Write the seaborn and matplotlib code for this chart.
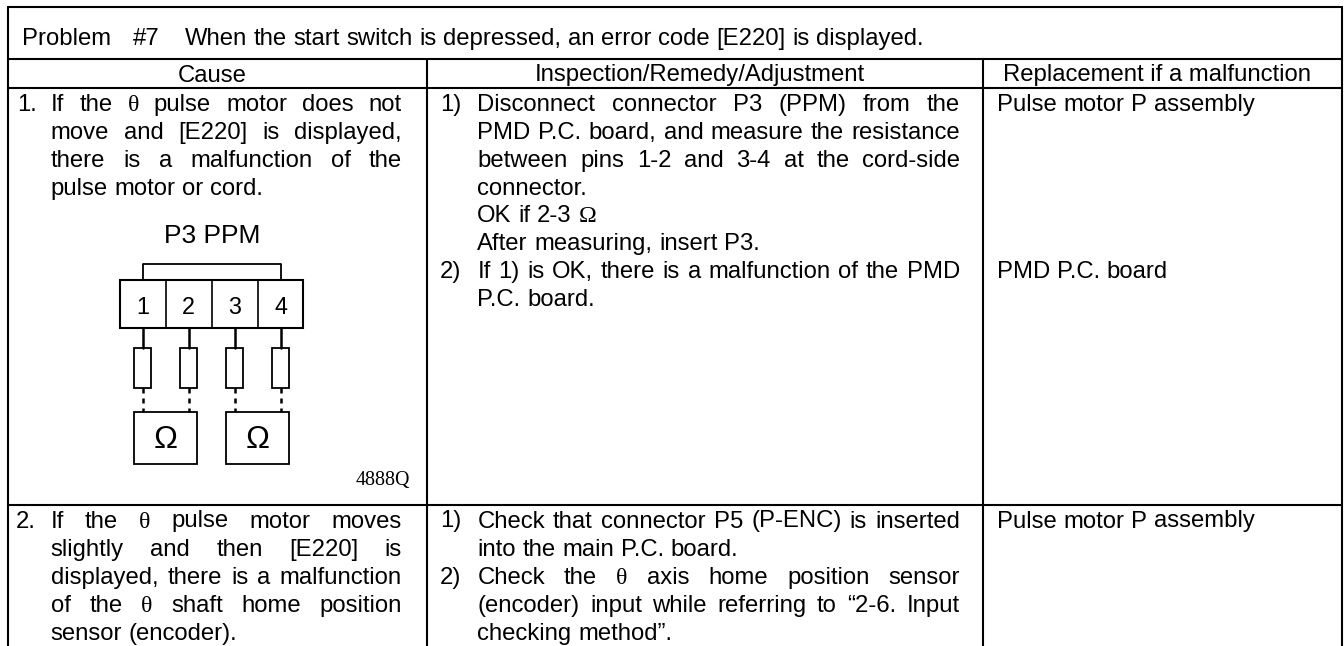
import matplotlib
matplotlib.use("Agg")
import matplotlib.pyplot as plt
import pandas as pd
import seaborn as sns
from matplotlib.patches import Rectangle

# table text
title_parts = ["Problem", "#7", "When the start switch is depressed, an error code [E220] is displayed."]
headers = ["Cause", "Inspection/Remedy/Adjustment", "Replacement if a malfunction"]

cause_1 = ["If the θ pulse motor does not", "move and [E220] is displayed,",
           "there is a malfunction of the", "pulse motor or cord."]
cause_2 = ["If the θ pulse motor moves", "slightly and then [E220] is",
           "displayed, there is a malfunction", "of the θ shaft home position", "sensor (encoder)."]
insp_1 = ["Disconnect connector P3 (PPM) from the", "PMD P.C. board, and measure the resistance",
          "between pins 1-2 and 3-4 at the cord-side", "connector.", "OK if 2-3 Ω", "After measuring, insert P3."]
insp_2 = ["If 1) is OK, there is a malfunction of the PMD", "P.C. board."]
insp_3 = ["Check that connector P5 (P-ENC) is inserted", "into the main P.C. board."]
insp_4 = ["Check the θ axis home position sensor", "(encoder) input while referring to “2-6. Input",
          "checking method”."]
replace_1 = ["Pulse motor P assembly", "PMD P.C. board", "Pulse motor P assembly"]

pins = ["1", "2", "3", "4"]
pin_x = [142.7, 188.7, 234.7, 280.7]
divider_x = [165.7, 211.7, 257.7]

# page layout in pixels
col_x = [7.5, 427, 983, 1341.5]
row_y = [7, 59, 88, 505, 646]
FS = 17.2
LH1 = 27.86
LH2 = 28.2
Y1 = 111
Y2 = 527.5

sns.set_theme(style="white")
plt.rcParams["font.family"] = ["Liberation Sans", "DejaVu Sans"]

fig = plt.figure(figsize=(13.44, 6.46), dpi=100)
ax = fig.add_axes([0, 0, 1, 1])

# table rules
rules = [
    (col_x[0], row_y[0], col_x[3], row_y[0]),
    (col_x[0], row_y[1], col_x[3], row_y[1]),
    (col_x[0], row_y[2], col_x[3], row_y[2]),
    (col_x[0], row_y[3], col_x[3], row_y[3]),
    (col_x[0], row_y[0], col_x[0], row_y[4]),
    (col_x[3], row_y[0], col_x[3], row_y[4]),
    (col_x[1], row_y[1], col_x[1], row_y[4]),
    (col_x[2], row_y[1], col_x[2], row_y[4]),
]
recs = []
for i, (x0, y0, x1, y1) in enumerate(rules):
    recs.append({"rule": i, "x": x0, "y": y0})
    recs.append({"rule": i, "x": x1, "y": y1})
rules_df = pd.DataFrame(recs)
sns.lineplot(data=rules_df, x="x", y="y", units="rule", estimator=None, sort=False,
             color="black", linewidth=1.5, ax=ax, legend=False)
ax.set_xlim(0, 1344)
ax.set_ylim(646, 0)
ax.axis("off")

renderer = fig.canvas.get_renderer()


def font_for(word):
    return "Liberation Serif" if word in ("θ", "Ω") else "Liberation Sans"


def word_width(word):
    t = ax.text(0, 0, word, fontsize=FS, family=font_for(word))
    w = t.get_window_extent(renderer).width
    t.remove()
    return w


def put_line(x, y, line, right=None):
    # right given means stretch the gaps so the line is justified
    words = line.split(" ")
    widths = [word_width(w) for w in words]
    gap = word_width("a a") - 2 * word_width("a")
    if right is not None and len(words) > 1:
        gap = (right - x - sum(widths)) / (len(words) - 1)
    for w, ww in zip(words, widths):
        ax.text(x, y, w, fontsize=FS, family=font_for(w), color="black", va="baseline", ha="left")
        x += ww + gap


# title row, header row
put_line(21.7, 45, title_parts[0])
put_line(133.3, 45, title_parts[1])
put_line(185, 45, title_parts[2])
for i, h in enumerate(headers):
    ax.text((col_x[i] + col_x[i + 1]) / 2 - 5.5, 81.5, h, fontsize=FS, ha="center", va="baseline", color="black")

# cause column
put_line(17, Y1, "1.")
for i, line in enumerate(cause_1):
    put_line(50.7, Y1 + i * LH1, line, right=None if i == 3 else 402)
put_line(16, Y2, "2.")
for i, line in enumerate(cause_2):
    put_line(50.7, Y2 + i * LH2, line, right=None if i == 4 else 402)

# inspection column
put_line(440, Y1, "1)")
for i, line in enumerate(insp_1):
    put_line(477.3, Y1 + i * LH1, line, right=960 if i < 3 else None)
put_line(440, Y1 + 6 * LH1, "2)")
for i, line in enumerate(insp_2):
    put_line(477.3, Y1 + (6 + i) * LH1, line, right=960 if i == 0 else None)
put_line(440, Y2, "1)")
for i, line in enumerate(insp_3):
    put_line(477.3, Y2 + i * LH2, line, right=960 if i == 0 else None)
put_line(440, Y2 + 2 * LH2, "2)")
for i, line in enumerate(insp_4):
    put_line(477.3, Y2 + (2 + i) * LH2, line, right=960 if i < 2 else None)

# replacement column
for y, line in zip([Y1, Y1 + 6 * LH1, Y2], replace_1):
    put_line(997, y, line)

# connector drawing
ax.text(211.7, 243, "P3 PPM", fontsize=19, ha="center", va="baseline", color="black")
ax.plot([pin_x[0], pin_x[0], pin_x[3], pin_x[3]], [280, 264, 264, 280], color="black", lw=1.3)
ax.add_patch(Rectangle((120, 280), 183, 48, fill=False, ec="black", lw=1.5))
for x in divider_x:
    ax.plot([x, x], [280, 328], color="black", lw=1.2)
for p, x in zip(pins, pin_x):
    ax.text(x, 314, p, fontsize=16.8, ha="center", va="baseline", color="black")
    ax.plot([x, x], [328, 348], color="black", lw=1.8)
    ax.add_patch(Rectangle((x - 8.5, 348), 17, 40, fill=False, ec="black", lw=1.3))
    ax.plot([x, x], [388, 412], color="black", lw=1.8, ls=(0, (2, 2)))
for x0 in (134.3, 226):
    ax.add_patch(Rectangle((x0, 412), 63, 51.5, fill=False, ec="black", lw=1.3))
    ax.text(x0 + 31.5, 448, "Ω", fontsize=23, ha="center", va="baseline", color="black")
ax.text(410, 485, "4888Q", fontsize=14.4, family="Liberation Serif", ha="right", va="baseline", color="black")

fig.savefig("out.png", dpi=100)
